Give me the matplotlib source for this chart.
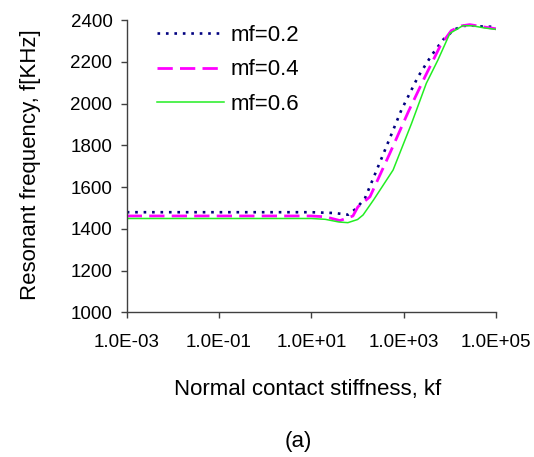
import matplotlib
matplotlib.use("Agg")
import matplotlib.pyplot as plt
from matplotlib.ticker import NullLocator

plt.rcParams['font.family'] = ['Liberation Sans', 'DejaVu Sans']

# Data (kf, resonant frequency in kHz)
kf_02 = [0.001, 0.1, 10, 32, 63, 95, 145, 355, 890, 2040, 3980, 7080, 12600, 20000, 31600, 56200, 100000]
f_02 = [1480, 1480, 1480, 1476, 1468, 1499, 1547, 1754, 1969, 2128, 2230, 2305, 2355, 2372, 2373, 2368, 2368]

kf_04 = [0.001, 0.1, 10, 20, 41.7, 79.4, 102, 186, 501, 1259, 2884, 6310, 10715, 17783, 26915, 50119, 100000]
f_04 = [1462, 1462, 1462, 1458, 1440, 1462, 1506, 1554, 1762, 1961, 2128, 2280, 2349, 2372, 2378, 2368, 2358]

kf_06 = [0.001, 0.1, 10, 20, 39.8, 61.7, 100, 132, 224, 589, 1479, 3090, 5495, 10000, 19055, 31623, 56234, 100000]
f_06 = [1450, 1450, 1450, 1446, 1433, 1430, 1445, 1467, 1540, 1682, 1905, 2097, 2208, 2336, 2373, 2372, 2362, 2355]

labels = ["mf=0.2", "mf=0.4", "mf=0.6"]
xticks = [1e-3, 1e-1, 1e1, 1e3, 1e5]
xtick_labels = ["1.0E-03", "1.0E-01", "1.0E+01", "1.0E+03", "1.0E+05"]
yticks = [1000, 1200, 1400, 1600, 1800, 2000, 2200, 2400]

fig = plt.figure(figsize=(5.34, 4.57), dpi=100)
ax = fig.add_axes([0.2373, 0.3162, 0.6916, 0.6400])

ax.plot(kf_02, f_02, color='#000080', lw=1.9, linestyle=(0, (1.0, 2.2)), label=labels[0])
ax.plot(kf_04, f_04, color='#FF00FF', lw=2.0, linestyle=(0, (5.5, 2.6)), label=labels[1])
ax.plot(kf_06, f_06, color='#22EE22', lw=1.1, linestyle='-', label=labels[2])

ax.set_xscale('log')
ax.set_xlim(1e-3, 1e5)
ax.set_ylim(1000, 2400)
ax.set_xticks(xticks)
ax.set_xticklabels(xtick_labels)
ax.xaxis.set_minor_locator(NullLocator())
ax.set_yticks(yticks)

for s in ['top', 'right']:
    ax.spines[s].set_visible(False)
for s in ['left', 'bottom']:
    ax.spines[s].set_color('#404040')
    ax.spines[s].set_linewidth(1.0)

ax.tick_params(axis='both', direction='out', length=4.3, width=1.0, color='#404040', labelsize=13.5)
ax.tick_params(axis='y', pad=6)
ax.tick_params(axis='x', pad=11)

ax.legend(loc='upper left', bbox_to_anchor=(157 / 534, 1 - 25 / 457), bbox_transform=fig.transFigure,
          frameon=False, fontsize=16, handlelength=3.0, handletextpad=0.3,
          labelspacing=0.6, borderpad=0, borderaxespad=0)

fig.text(308 / 534, 1 - 390 / 457, "Normal contact stiffness, kf", ha='center', va='center', fontsize=16)
fig.text(31 / 534, 1 - 165 / 457, "Resonant frequency, f[KHz]", ha='center', va='center', rotation=90, fontsize=16)
fig.text(298 / 534, 1 - 442 / 457, "(a)", ha='center', va='center', fontsize=16)

fig.savefig("out.png", dpi=100)
